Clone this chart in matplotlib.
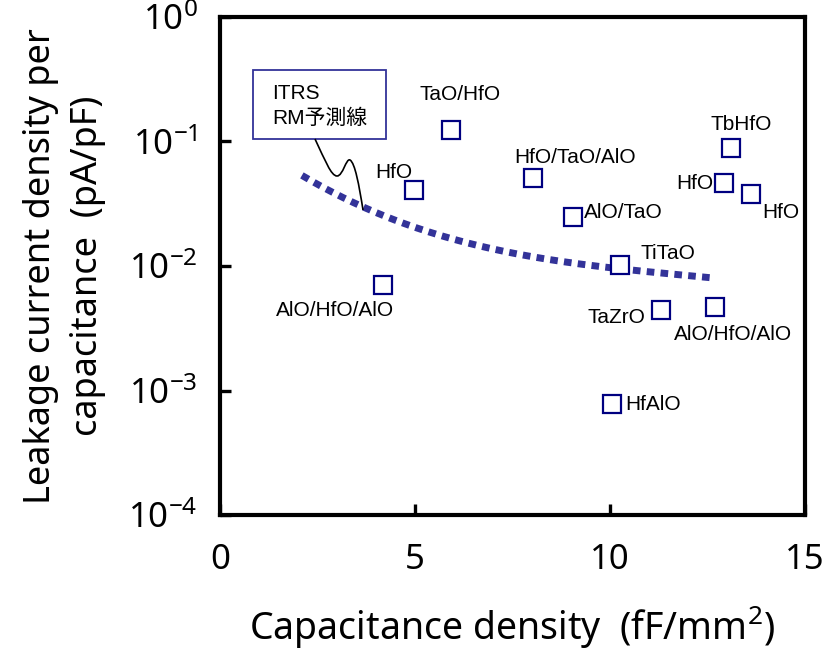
import numpy as np
import matplotlib as mpl
mpl.use('Agg')
import matplotlib.pyplot as plt
from matplotlib.path import Path
from matplotlib.patches import PathPatch, Rectangle

plt.rcParams['font.family'] = ['Noto Sans', 'Noto Sans CJK JP']
plt.rcParams['mathtext.default'] = 'regular'

# measured devices
cap = [4.18, 4.97, 5.92, 8.03, 9.05, 10.26, 10.05, 11.31, 12.69, 12.92, 13.10, 13.62]
leak = [0.0071, 0.041, 0.124, 0.051, 0.0248, 0.0102, 0.00078, 0.00443, 0.00469, 0.0464, 0.0887, 0.0379]
names = ['AlO/HfO/AlO', 'HfO', 'TaO/HfO', 'HfO/TaO/AlO', 'AlO/TaO', 'TiTaO', 'HfAlO',
         'TaZrO', 'AlO/HfO/AlO', 'HfO', 'TbHfO', 'HfO']

# ITRS roadmap prediction line
itrs_cap = [2.1, 3.7, 5.8, 7.9, 10.1, 12.6]
itrs_leak = [0.053, 0.030, 0.017, 0.0118, 0.0098, 0.0080]

# label offsets in pixels (dx, dy, ha)
offsets = [(-48, -26, 'center'), (-20, 17, 'center'), (9, 35, 'center'), (42, 20, 'center'),
           (11, 4, 'left'), (20, 11, 'left'), (13, -1, 'left'), (-16, -7, 'right'),
           (18, -28, 'center'), (-11, 0, 'right'), (10, 23, 'center'), (11, -19, 'left')]

fig = plt.figure(figsize=(8.24, 6.52), dpi=100)
ax = fig.add_axes([0.267, 0.210, 0.710, 0.764])

# smooth curve through read points (log space)
xs = np.linspace(itrs_cap[0], itrs_cap[-1], 200)
coef = np.polyfit(itrs_cap, np.log10(itrs_leak), 3)
ax.plot(xs, 10 ** np.polyval(coef, xs), color='#333399', lw=5,
        linestyle=(0, (1.1, 0.9)), dash_capstyle='butt', zorder=2)

ax.plot(cap, leak, 's', ms=13, mfc='white', mec='#000080', mew=1.6, zorder=3)

for x, y, t, (dx, dy, ha) in zip(cap, leak, names, offsets):
    ax.annotate(t, (x, y), xytext=(dx, dy), textcoords='offset pixels',
                ha=ha, va='center', fontsize=15, family='Liberation Sans')

ax.set_yscale('log')
ax.set_xlim(0, 15)
ax.set_ylim(1e-4, 1)
ax.set_xticks([0, 5, 10, 15])
ax.set_yticks([1e-4, 1e-3, 1e-2, 1e-1, 1])
ax.set_yticklabels(['10$^{-4}$', '10$^{-3}$', '10$^{-2}$', '10$^{-1}$', '10$^{0}$'])
ax.minorticks_off()
ax.tick_params(direction='in', length=8, width=2.4, labelsize=25, pad=16)
ax.tick_params(axis='x', pad=20)
for s in ax.spines.values():
    s.set_linewidth(3)

ax.set_xlabel('Capacitance density  (fF/mm$^{2}$)', fontsize=27, labelpad=20)
ax.set_ylabel('Leakage current density per\ncapacitance  (pA/pF)', fontsize=26,
              labelpad=16, linespacing=1.4)

# callout box
ax.add_patch(Rectangle((0.056, 0.755), 0.228, 0.139, transform=ax.transAxes,
                       fc='white', ec='#333399', lw=1.3, zorder=4))
ax.text(0.089, 0.847, 'ITRS', transform=ax.transAxes, fontsize=15,
        family='Liberation Sans', va='center', ha='left', zorder=5)
ax.text(0.089, 0.797, 'RM予測線', transform=ax.transAxes, fontsize=15,
        family=['Liberation Sans', 'Noto Sans CJK JP'], va='center', ha='left', zorder=5)

def px(x, y):
    return ((x - 220) / 585, (515 - y) / 498)

verts = [px(315, 139), px(325, 160), px(331, 176), px(337, 176),
         px(343, 176), px(346, 158), px(350, 160),
         px(355, 163), px(359, 185), px(363, 210)]
codes = [Path.MOVETO] + [Path.CURVE4] * 9
ax.add_patch(PathPatch(Path(verts, codes), fc='none', ec='black', lw=1.2,
                       transform=ax.transAxes, zorder=4))

fig.savefig('out.png', dpi=100)
